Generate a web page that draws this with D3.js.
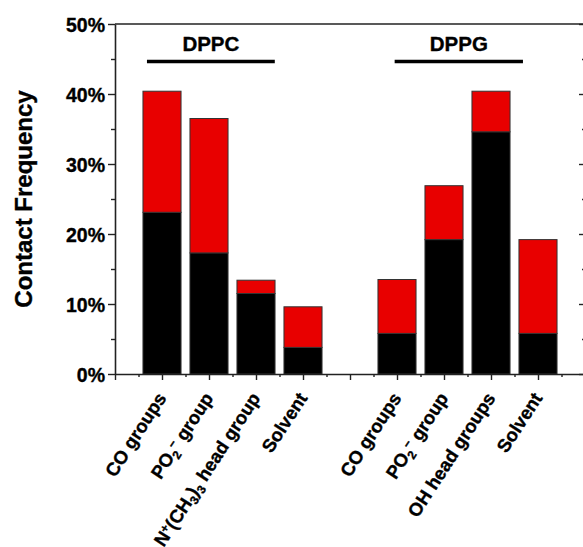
<!DOCTYPE html>
<html lang="en">
<head>
    <meta charset="UTF-8">
    <title>Contact Frequency</title>
    <script src="https://d3js.org/d3.v7.min.js"></script>
    <style>
        body { margin: 0; background: #fff; }
        text { font-family: "Liberation Sans", Arial, sans-serif; font-weight: bold; fill: #000; stroke: #000; stroke-width: 0.35px; }
    </style>
</head>
<body>

<script>
// labels are lists of [text, kind] parts: "" normal, "sub", "sup"
const dppcLabels = [
    [["CO groups", ""]],
    [["PO", ""], ["2", "sub"], ["\u2212", "sup"], [" group", ""]],
    [["N", ""], ["+", "sup"], ["(CH", ""], ["3", "sub"], [")", ""], ["3", "sub"], [" head group", ""]],
    [["Solvent", ""]]
];
const dppgLabels = [
    [["CO groups", ""]],
    [["PO", ""], ["2", "sub"], ["\u2212", "sup"], [" group", ""]],
    [["OH head groups", ""]],
    [["Solvent", ""]]
];
// percentages
const dppcBlack = [23.1, 17.3, 11.5, 3.8];
const dppcRed   = [17.3, 19.2, 1.9, 5.8];
const dppgBlack = [5.8, 19.2, 34.6, 5.8];
const dppgRed   = [7.7, 7.7, 5.8, 13.4];
const yTicks = [0, 10, 20, 30, 40, 50];

const width = 583, height = 547;
const mLeft = 115, mTop = 24, mBottom = 374, mRight = 585;

const svg = d3.select("body").append("svg")
    .attr("width", width)
    .attr("height", height);

const x = d3.scaleLinear().domain([0, 10]).range([mLeft, mRight]);
const y = d3.scaleLinear().domain([0, 50]).range([mBottom, mTop]);

// slots 1-4 DPPC, 5 empty, 6-9 DPPG
const rows = [];
dppcBlack.forEach((v, i) => rows.push({pos: i + 1, black: v, red: dppcRed[i], label: dppcLabels[i]}));
dppgBlack.forEach((v, i) => rows.push({pos: i + 6, black: v, red: dppgRed[i], label: dppgLabels[i]}));

const stack = d3.stack().keys(["black", "red"]);
const series = stack(rows);
const colors = {black: "#000000", red: "#e80000"};
const barW = (x(1) - x(0)) * 0.81;

svg.append("g")
    .selectAll("g")
    .data(series)
    .join("g")
    .attr("fill", d => colors[d.key])
    .selectAll("rect")
    .data(d => d)
    .join("rect")
    .attr("x", d => x(d.data.pos) - barW / 2)
    .attr("width", barW)
    .attr("y", d => y(d[1]))
    .attr("height", d => y(d[0]) - y(d[1]))
    .attr("stroke", "#333")
    .attr("stroke-width", 1);

// axes
const axisStyle = g => {
    g.select(".domain").attr("stroke", "#222").attr("stroke-width", 1.6);
    g.selectAll(".tick line").attr("stroke", "#222").attr("stroke-width", 1.4);
};

svg.append("g")
    .attr("transform", `translate(${mLeft},0)`)
    .call(d3.axisLeft(y).tickValues(yTicks).tickFormat(d => d + "%").tickSize(7).tickSizeOuter(0).tickPadding(3))
    .call(axisStyle)
    .call(g => g.selectAll("text").style("font-size", "19.5px").attr("dy", "0.36em"));

svg.append("g")
    .attr("transform", `translate(${mLeft},0)`)
    .call(d3.axisLeft(y).tickValues(d3.range(5, 50, 10)).tickSize(4).tickFormat(""))
    .call(axisStyle)
    .call(g => g.select(".domain").remove());

svg.append("g")
    .attr("transform", `translate(${mRight},0)`)
    .call(d3.axisLeft(y).tickValues(yTicks).tickSize(6).tickSizeOuter(0).tickFormat(""))
    .call(axisStyle);

svg.append("g")
    .attr("transform", `translate(${mRight},0)`)
    .call(d3.axisLeft(y).tickValues(d3.range(5, 50, 10)).tickSize(3).tickFormat(""))
    .call(axisStyle)
    .call(g => g.select(".domain").remove());

svg.append("g")
    .attr("transform", `translate(0,${mBottom})`)
    .call(d3.axisBottom(x).tickValues(d3.range(0, 11)).tickSize(6).tickSizeOuter(0).tickFormat(""))
    .call(axisStyle);

svg.append("g")
    .attr("transform", `translate(0,${mBottom})`)
    .call(d3.axisBottom(x).tickValues(d3.range(0.5, 10, 1)).tickSize(3).tickFormat(""))
    .call(axisStyle)
    .call(g => g.select(".domain").remove());

svg.append("line")
    .attr("x1", mLeft).attr("x2", mRight)
    .attr("y1", mTop).attr("y2", mTop)
    .attr("stroke", "#222").attr("stroke-width", 1.6);

// category labels
const lab = svg.append("g")
    .selectAll("text")
    .data(rows)
    .join("text")
    .attr("text-anchor", "end")
    .attr("transform", d => `translate(${x(d.pos) + 5},${mBottom + 24}) rotate(-57)`)
    .style("font-size", "18.5px");

lab.each(function(d) {
    const t = d3.select(this);
    let shift = 0;
    d.label.forEach(([s, kind]) => {
        const sp = t.append("tspan").text(s);
        let target = 0;
        if (kind === "sub") target = 4;
        if (kind === "sup") target = -6;
        if (kind) sp.style("font-size", "12px");
        sp.attr("dy", target - shift);
        shift = target;
    });
});

// group titles
const groups = [
    {name: "DPPC", from: 0.68, to: 3.4},
    {name: "DPPG", from: 5.95, to: 8.68}
];
svg.append("g")
    .selectAll("line")
    .data(groups)
    .join("line")
    .attr("x1", d => x(d.from))
    .attr("x2", d => x(d.to))
    .attr("y1", 61.5).attr("y2", 61.5)
    .attr("stroke", "#000").attr("stroke-width", 3.5);

svg.append("g")
    .selectAll("text")
    .data(groups)
    .join("text")
    .attr("x", d => x((d.from + d.to) / 2))
    .attr("y", 51)
    .attr("text-anchor", "middle")
    .style("font-size", "20.5px")
    .text(d => d.name);

// y title
svg.append("text")
    .attr("transform", `translate(32,${(mTop + mBottom) / 2})`+" rotate(-90)")
    .attr("text-anchor", "middle")
    .style("font-size", "24px")
    .text("Contact Frequency");
</script>

</body>
</html>
